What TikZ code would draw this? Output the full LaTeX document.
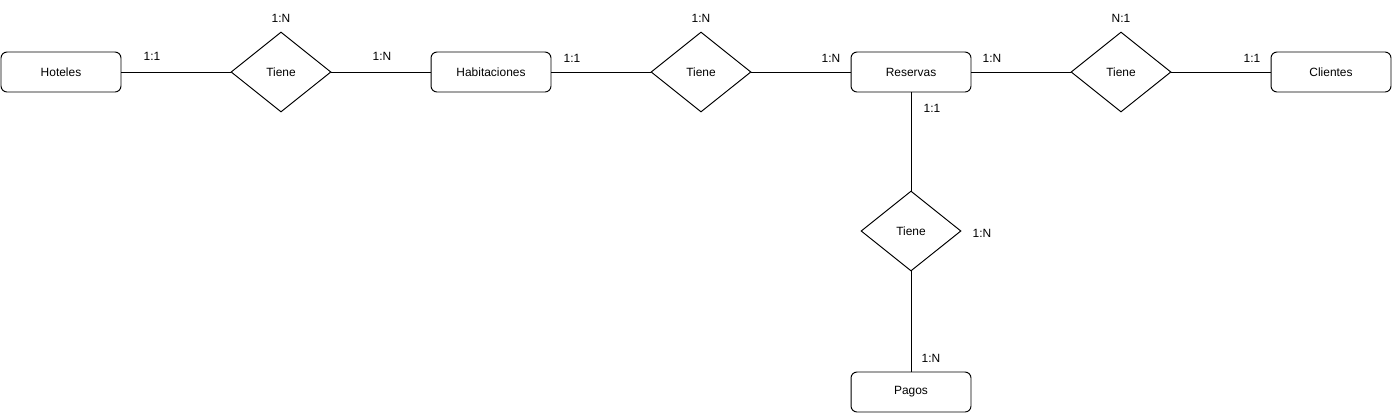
\documentclass[tikz,border=0pt]{standalone}
\usepackage{fontspec}
\setmainfont{Liberation Sans}
\usetikzlibrary{shapes.geometric}
\begin{document}
\begin{tikzpicture}[x=0.02cm,y=-0.02cm,line width=0.55pt,
    entidad/.style={draw,rectangle,rounded corners=0.12cm,minimum width=2.4cm,minimum height=0.8cm},
    relacion/.style={draw,diamond,minimum width=2cm,minimum height=1.6cm,inner sep=0pt},
    card/.style={inner sep=0pt}]
  \useasboundingbox (0,0) rectangle (1392,413);
  \fontsize{6.8}{8}\selectfont
    \node[entidad](hoteles) at (61,72) {Hoteles};
    \node[entidad](habit) at (491,72) {Habitaciones};
    \node[entidad](reservas) at (911,72) {Reservas};
    \node[entidad](clientes) at (1331,72) {Clientes};
    \node[entidad](pagos) at (911,392) {Pagos};
    \node[relacion](t1) at (281,72) {Tiene};
    \node[relacion](t2) at (701,72) {Tiene};
    \node[relacion](t3) at (1121,72) {Tiene};
    \node[relacion](t4) at (911,231) {Tiene};
    \draw (hoteles) -- (t1) -- (habit);
    \draw (habit) -- (t2) -- (reservas);
    \draw (reservas) -- (t3) -- (clientes);
    \draw (reservas) -- (t4) -- (pagos);
    % cardinalidades
    \node[card] at (152,56) {1:1};
    \node[card] at (382,56) {1:N};
    \node[card] at (281,18) {1:N};
    \node[card] at (572,58) {1:1};
    \node[card] at (701,18) {1:N};
    \node[card] at (831,58) {1:N};
    \node[card] at (992,58) {1:N};
    \node[card] at (1121,18) {N:1};
    \node[card] at (1252,58) {1:1};
    \node[card] at (932,108) {1:1};
    \node[card] at (982,233) {1:N};
    \node[card] at (931,358) {1:N};
  \end{tikzpicture}
\end{document}
